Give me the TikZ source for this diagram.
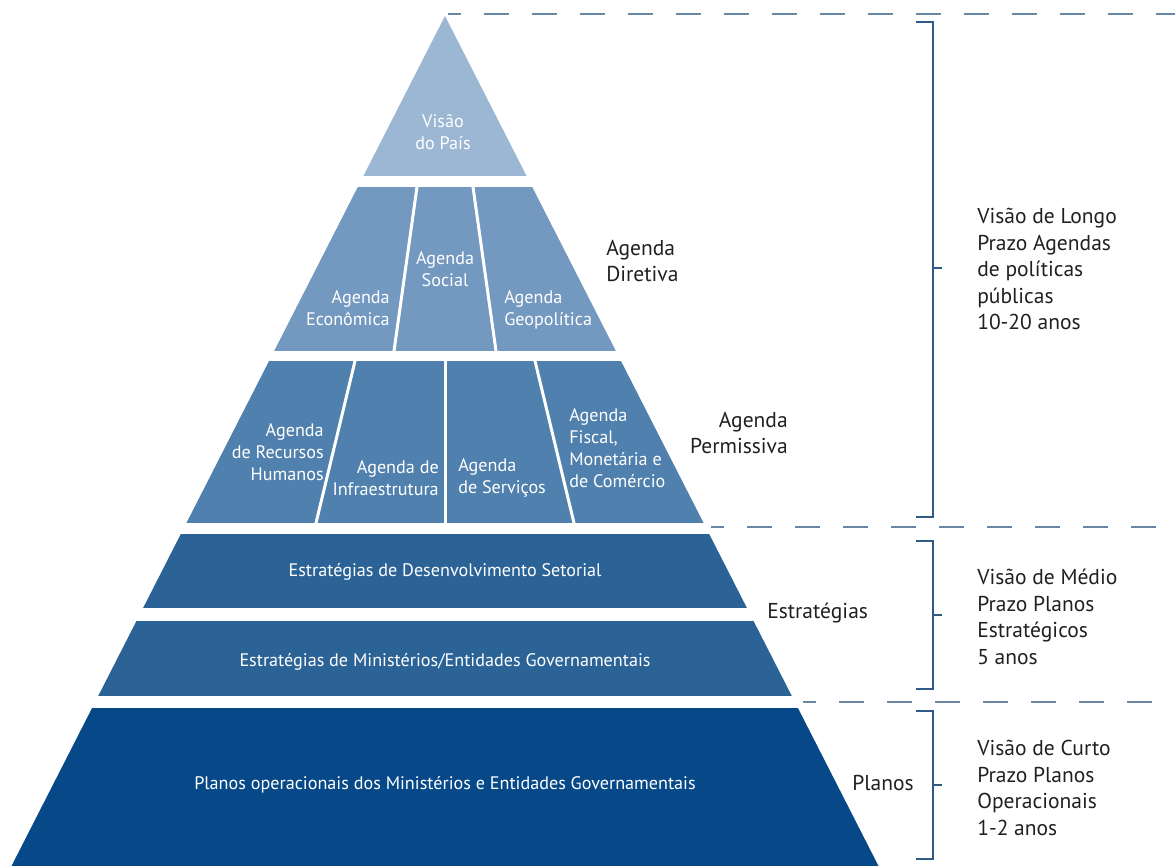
\documentclass[tikz,border=0pt]{standalone}
\usepackage{fontspec}
\setmainfont{PT Sans}
\usetikzlibrary{positioning}
\usepackage{xcolor}
\definecolor{tierA}{RGB}{155, 183, 211}
\definecolor{tierB}{RGB}{115, 153, 192}
\definecolor{tierC}{RGB}{80, 128, 173}
\definecolor{tierD}{RGB}{44, 99, 151}
\definecolor{tierE}{RGB}{7, 73, 136}
\definecolor{dashgray}{RGB}{106, 134, 165}
\definecolor{bracketblue}{RGB}{47, 90, 134}
\definecolor{ink}{RGB}{35, 31, 32}

\newcommand{\timebracket}[3]{
    \draw[spanline] (916,#1) -- (933,#1) -- (933,#2) -- (916,#2);
    \draw[spanline] (933,#3) -- (942,#3);
}

\begin{document}
\begin{tikzpicture}[
        x=0.025cm, y=-0.025cm,
        intext/.style={
            text=white,
            inner sep=0pt,
            font=\fontsize{12.9}{15.8}\selectfont
        },
        outtext/.style={
            text=ink,
            inner sep=0pt,
            align=left,
            font=\fontsize{15.3}{18.85}\selectfont
        },
        divider/.style={white, line width=0.075cm},
        horizon/.style={
            dashgray,
            line width=0.04cm,
            dash pattern=on 0.625cm off 0.575cm,
            dash phase=0.3cm
        },
        spanline/.style={bracketblue, line width=0.035cm}
    ]

        \useasboundingbox (0,0) rectangle (1175,866);

        \begin{scope}
            \clip (445,16) -- (878.5,866) -- (11.5,866) -- cycle;
            \fill[tierA] (0,16) rectangle (1175,176);
            \fill[tierB] (0,187) rectangle (1175,351);
            \fill[tierC] (0,361) rectangle (1175,523);
            \fill[tierD] (0,534) rectangle (1175,608);
            \fill[tierD] (0,621) rectangle (1175,696);
            \fill[tierE] (0,708) rectangle (1175,866);

            \draw[divider] (417.7,182) -- (393.3,356);
            \draw[divider] (472.3,182) -- (496.7,356);
            \draw[divider] (356.2,356) -- (314.8,528);
            \draw[divider] (445,356) -- (445,528);
            \draw[divider] (533.8,356) -- (575.2,528);
        \end{scope}

        \node (1) [intext, align=center] at (443,132) {Visão\\do País};

        \node (2) [intext, align=right, anchor=east] at (390,308) {Agenda\\Econômica};
        \node (3) [intext, align=center] at (445,269) {Agenda\\Social};
        \node (4) [intext, align=left, anchor=west] at (504,310) {Agenda\\Geopolítica};

        \node (5) [intext, align=right, anchor=east] at (324,452) {Agenda\\de Recursos\\Humanos};
        \node (6) [intext, align=right, anchor=east] at (439,478) {Agenda de\\Infraestrutura};
        \node (7) [intext, align=left, anchor=west] at (458,478) {Agenda\\de Serviços};
        \node (8) [intext, align=left, anchor=west] at (569,448) {Agenda\\Fiscal,\\Monetária e\\de Comércio};

        \node (9) [intext] at (445,572) {Estratégias de Desenvolvimento Setorial};
        \node (10) [intext] at (445,662) {Estratégias de Ministérios/Entidades Governamentais};
        \node (11) [intext] at (445,785) {Planos operacionais dos Ministérios e Entidades Governamentais};

        \node (12) [outtext, anchor=west] at (606,261) {Agenda\\Diretiva};
        \node (13) [outtext, align=right, anchor=east] at (788,433) {Agenda\\Permissiva};
        \node (14) [outtext, anchor=west] at (767,613) {Estratégias};
        \node (15) [outtext, anchor=west] at (852,783) {Planos};

        \node (16) [outtext, anchor=west] at (977,269)
            {Visão de Longo\\Prazo Agendas\\de políticas\\públicas\\10-20 anos};
        \node (17) [outtext, anchor=west] at (977,617)
            {Visão de Médio\\Prazo Planos\\Estratégicos\\5 anos};
        \node (18) [outtext, anchor=west] at (977,788)
            {Visão de Curto\\Prazo Planos\\Operacionais\\1-2 anos};

        \draw[horizon] (448,14) -- (1175,14);
        \draw[horizon] (711,527) -- (1175,527);
        \draw[horizon] (803,702) -- (1175,702);

        \timebracket{22}{517}{268}
        \timebracket{541}{689}{615}
        \timebracket{711}{859}{785}
    \end{tikzpicture}
\end{document}
